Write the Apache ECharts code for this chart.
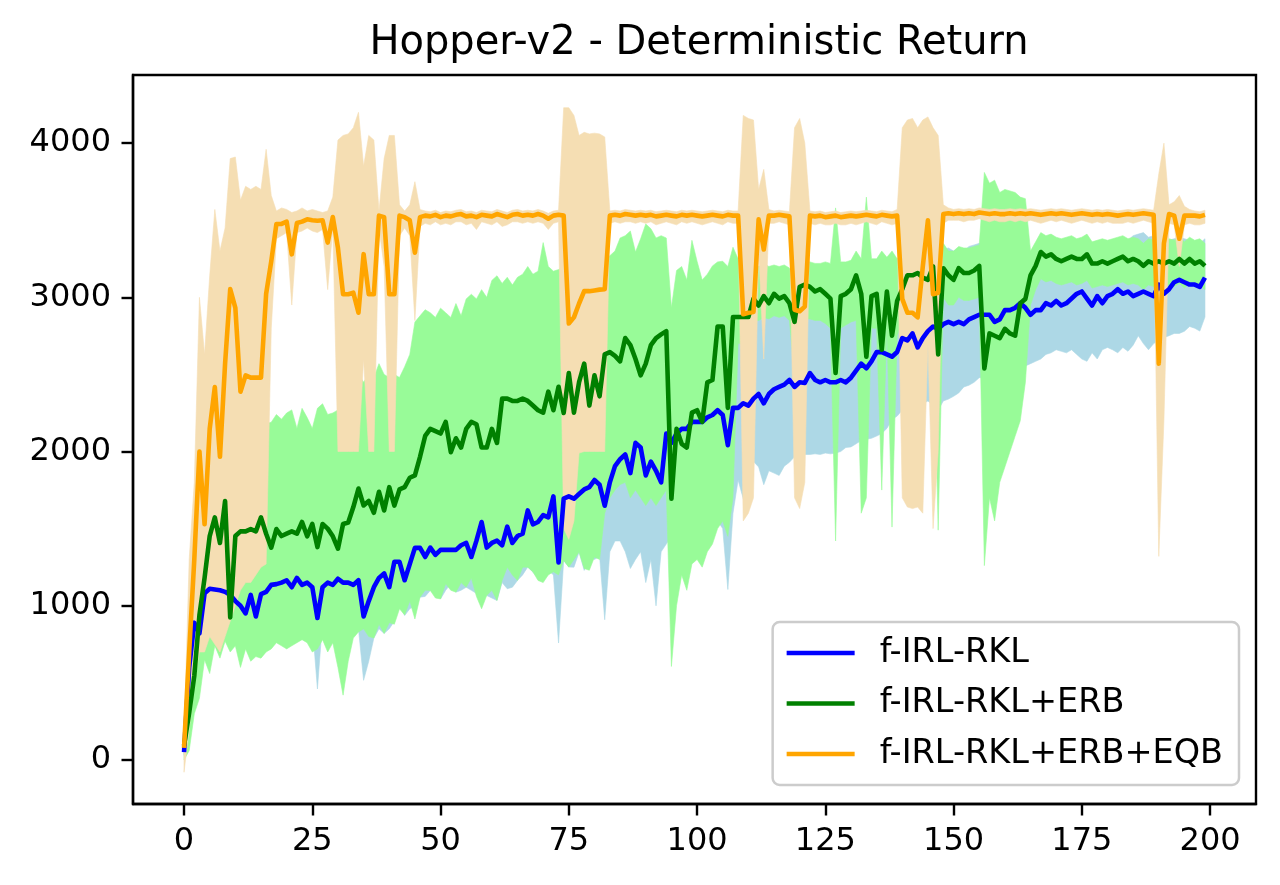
<!DOCTYPE html>
<html>
<head>
<meta charset="utf-8">
<script src="https://cdn.jsdelivr.net/npm/echarts@6/dist/echarts.min.js"></script>
<style>html,body{margin:0;padding:0;background:#fff}#c{width:1280px;height:885px}</style>
</head>
<body>
<div id="c"></div>
<script>
const titleText = 'Hopper-v2 - Deterministic Return';
const seriesNames = ['f-IRL-RKL', 'f-IRL-RKL+ERB', 'f-IRL-RKL+ERB+EQB'];
const xTicks = [0, 25, 50, 75, 100, 125, 150, 175, 200];
const yTicks = [0, 1000, 2000, 3000, 4000];

const blueMean = [
50,600,890,820,1080,1110,1105,1100,1090,1070,
1030,1000,950,1070,930,1075,1090,1135,1140,1150,
1165,1120,1180,1135,1150,1120,920,1120,1150,1135,
1175,1150,1150,1135,1165,930,1030,1120,1180,1210,
1120,1285,1285,1165,1270,1375,1375,1316,1377,1330,
1362,1362,1362,1362,1392,1407,1316,1422,1543,1377,
1407,1422,1392,1513,1407,1452,1467,1618,1528,1543,
1588,1573,1709,1280,1694,1709,1694,1724,1754,1769,
1815,1785,1649,1800,1905,1950,1981,1860,2056,2026,
1845,1935,1875,1800,2117,2056,2117,2147,2147,2192,
2192,2192,2222,2237,2268,2237,2041,2283,2283,2313,
2298,2343,2373,2313,2373,2404,2419,2434,2464,2419,
2449,2445,2509,2464,2449,2464,2449,2449,2464,2449,
2479,2524,2570,2540,2585,2645,2645,2630,2615,2645,
2736,2721,2766,2675,2736,2781,2811,2796,2826,2841,
2826,2841,2826,2857,2872,2887,2887,2887,2841,2857,
2917,2917,2932,2962,2932,2887,2917,2917,2962,2947,
2977,2947,2962,2992,3023,3038,2992,2947,3008,2962,
3008,3023,3053,3023,3038,3008,3023,3038,3023,3008,
3083,3023,3053,3098,3113,3098,3083,3083,3068,3128];

const blueLo = [
30,400,700,650,850,900,900,900,900,880,
850,820,800,850,780,850,880,900,900,900,
920,900,920,900,920,880,460,900,920,900,
920,900,900,900,850,516,640,790,850,820,
850,900,1011,936,980,1000,1055,1060,1099,1080,
1044,1100,1142,1088,1100,1120,1100,1080,1060,1066,
1050,1034,1150,1110,1120,1164,1200,1251,1218,1180,
1200,1230,1200,758,1294,1251,1250,1348,1229,1316,
1300,1320,909,1350,1420,1420,1350,1241,1300,1350,
1150,1300,999,1350,1400,1450,1400,1422,1300,1350,
1400,1420,1450,1500,1550,1500,1105,1600,1815,1694,
1750,1935,1900,1785,1875,1860,1845,1905,1930,1966,
1975,1981,1981,1985,1981,1990,1985,1990,2000,2026,
2030,2050,2071,2080,2086,2100,2117,2150,2207,2230,
2268,2280,2290,2300,2310,2328,2300,2268,2328,2340,
2358,2380,2419,2430,2449,2479,2480,2490,2500,2510,
2520,2530,2540,2550,2555,2570,2585,2600,2630,2640,
2660,2650,2640,2660,2630,2600,2585,2640,2600,2660,
2675,2660,2640,2675,2650,2690,2751,2700,2660,2700,
2721,2740,2751,2766,2766,2780,2811,2800,2781,2872];

const blueHi = [
200,900,1150,1100,1300,1320,1310,1300,1290,1280,
1250,1220,1200,1280,1200,1280,1300,1340,1350,1360,
1370,1340,1380,1350,1360,1340,1300,1340,1360,1350,
1380,1360,1360,1350,1380,1300,1330,1420,1480,1510,
1450,1580,1590,1480,1570,1680,1690,1620,1680,1640,
1660,1670,1660,1670,1700,1710,1640,1720,1850,1690,
1710,1720,1700,1820,1710,1760,1770,1920,1830,1850,
1890,1880,2010,1700,2000,2010,2000,2030,2060,2070,
2120,2090,2000,2100,2210,2250,2280,2170,2360,2330,
2150,2240,2180,2120,2420,2360,2420,2450,2450,2490,
2490,2490,2520,2540,2570,2540,2400,2600,2830,2860,
2850,2890,2920,2870,2920,2950,2970,2980,3010,2970,
3000,2990,3050,3010,3000,3010,3000,3000,3010,3000,
3030,3070,3110,3090,3130,3180,3180,3170,3160,3190,
3250,3240,3280,3200,3250,3290,3310,3290,3310,3320,
3300,3320,3300,3330,3340,3350,3350,3340,3300,3310,
3300,3290,3300,3320,3290,3250,3270,3280,3300,3290,
3310,3280,3290,3310,3340,3350,3310,3270,3320,3290,
3330,3350,3380,3350,3370,3400,3410,3420,3390,3400,
3420,3350,3370,3380,3390,3380,3370,3360,3350,3380];

const greenMean = [
93,305,546,939,1180,1452,1573,1407,1679,924,
1452,1482,1482,1497,1482,1573,1467,1377,1497,1452,
1467,1482,1467,1543,1450,1530,1380,1530,1500,1450,
1370,1530,1540,1640,1760,1650,1679,1603,1739,1618,
1769,1649,1754,1769,1830,1845,1966,2101,2147,2132,
2117,2192,1996,2086,2026,2147,2192,2177,2026,2026,
2147,2056,2343,2343,2328,2328,2343,2328,2298,2268,
2252,2388,2268,2420,2250,2509,2252,2450,2570,2298,
2494,2358,2630,2645,2620,2585,2736,2690,2600,2494,
2570,2690,2736,2760,2781,1694,2147,2050,2026,2252,
2268,2192,2449,2464,2811,2811,2283,2872,2872,2872,
2872,2992,2947,3008,2962,3023,2992,3008,2962,2841,
3068,3083,3068,3038,3053,3023,2992,2509,3008,3023,
3053,3143,3023,2615,3008,3023,2660,3038,2751,2977,
3053,3143,3143,3158,3128,3113,3200,2630,3189,3143,
3113,3189,3158,3158,3174,3204,2539,2766,2751,2736,
2796,2766,2751,2962,2990,3143,3204,3294,3264,3279,
3249,3234,3249,3264,3249,3249,3279,3219,3219,3234,
3219,3234,3249,3264,3234,3249,3234,3204,3234,3219,
3234,3219,3234,3219,3249,3219,3249,3219,3234,3204];

const greenLo = [
0,60,300,400,650,560,740,660,770,700,
740,600,720,640,670,660,700,720,760,740,
720,740,760,780,760,700,720,780,700,760,
600,420,640,790,830,850,800,790,880,820,
890,880,980,940,1030,914,1055,1100,1099,1050,
1044,1142,1100,1088,1150,1120,1180,1060,980,1066,
1100,1034,1164,1250,1200,1164,1250,1250,1220,1164,
1150,1200,1220,1200,1294,1250,1300,1348,1241,1230,
1316,1300,1600,1700,1750,1786,1800,1700,1750,1700,
1650,1700,1650,1700,1750,606,1000,1200,1100,1271,
1300,1250,1350,1400,1500,1550,1450,1700,2700,2700,
2720,2850,2850,2870,2860,2880,2870,2880,2850,2500,
2850,2860,2860,2850,2850,2830,2800,1420,2800,2820,
2840,2850,1600,1700,2800,2800,1750,2800,1510,2750,
2850,2950,2950,2950,2950,2900,2950,1490,3000,2950,
2950,3000,2980,2980,2990,3000,1260,1700,1550,1800,
1900,2000,2100,2200,2450,2950,3050,3120,3100,3110,
3090,3080,3090,3100,3080,3090,3110,3060,3070,3080,
3070,3080,3090,3100,3080,3090,3080,3050,3080,3070,
3080,3060,3080,3070,3090,3060,3090,3070,3080,3050];

const greenHi = [
180,600,900,1400,1600,1900,2000,2000,2100,1900,
2100,2150,2150,2150,2200,2200,2180,2190,2240,2210,
2250,2270,2150,2280,2220,2150,2280,2310,2240,2250,
2270,2300,2350,2400,2500,2450,2500,2480,2570,2500,
2480,2500,2480,2550,2630,2840,2880,2920,2900,2870,
2930,2900,2870,2960,2880,2990,3020,2990,3050,3000,
3110,3140,3090,3130,3080,3130,3150,3200,3150,3170,
3355,3200,3170,3180,3200,3220,3200,3250,3230,3230,
3240,3250,3260,3270,3300,3385,3400,3430,3294,3380,
3476,3445,3385,3400,3385,2932,3174,3200,3113,3370,
3234,3113,3150,3204,3230,3234,3200,3325,3250,3230,
3200,3230,3200,3220,3200,3210,3200,3210,3190,3150,
3250,3240,3230,3220,3220,3230,3220,3580,3230,3230,
3240,3300,3250,3650,3250,3250,3300,3260,3300,3250,
3280,3300,3320,3330,3300,3300,3350,3200,3350,3300,
3300,3330,3320,3320,3330,3340,3810,3740,3760,3680,
3700,3690,3680,3650,3640,3300,3360,3420,3400,3410,
3390,3380,3390,3400,3380,3390,3410,3360,3370,3380,
3370,3380,3390,3400,3380,3390,3380,3350,3380,3370,
3380,3360,3380,3370,3390,3360,3390,3370,3380,3350];

const orangeMean = [
78,700,1300,2000,1528,2147,2418,1966,2570,3053,
2932,2388,2494,2479,2479,2479,3023,3234,3476,3476,
3491,3279,3482,3491,3506,3500,3497,3500,3355,3521,
3320,3020,3020,3030,2900,3280,3020,3020,3530,3520,
3020,3020,3530,3520,3500,3290,3520,3530,3525,3535,
3520,3530,3525,3535,3540,3525,3530,3520,3535,3530,
3525,3540,3530,3520,3535,3540,3530,3535,3530,3540,
3530,3510,3530,3535,3530,2830,2870,2960,3040,3040,
3045,3050,3053,3530,3535,3530,3540,3535,3530,3535,
3530,3535,3525,3530,3535,3530,3525,3535,3530,3535,
3530,3525,3530,3535,3530,3525,3535,3530,3530,2890,
2900,2905,3506,3310,3530,3530,3535,3530,3525,2920,
2910,2940,3530,3525,3530,3520,3525,3530,3520,3525,
3530,3525,3530,3535,3530,3525,3535,3530,3525,3530,
2990,2900,2900,2870,3200,3500,3020,3030,3540,3545,
3540,3545,3540,3545,3540,3550,3545,3540,3545,3540,
3540,3545,3540,3545,3540,3545,3540,3535,3540,3545,
3540,3545,3540,3535,3540,3545,3540,3535,3540,3535,
3540,3535,3530,3535,3540,3535,3540,3545,3540,3535,
2570,3350,3540,3530,3380,3530,3530,3530,3525,3535];

const orangeLo = [
-80,200,500,700,700,800,750,700,800,900,
1000,1100,1150,1150,1200,1250,1270,2800,3380,3400,
3420,2950,3420,3430,3450,3430,3420,3440,3050,3450,
2000,2000,2000,2000,2000,2600,2000,2000,3450,3200,
2000,2000,3400,3450,3400,2850,3460,3480,3470,3490,
3470,3480,3470,3490,3490,3470,3480,3440,3490,3480,
3470,3490,3460,3470,3490,3490,3480,3490,3480,3490,
3480,3440,3480,3490,1500,1430,1550,1990,2000,2000,
2000,2000,2000,3480,3490,3480,3490,3490,3480,3490,
3480,3490,3470,3480,3490,3480,3470,3490,3480,3490,
3480,3470,3480,3490,3480,3470,3490,3480,3480,1550,
1600,1700,3300,2600,3480,3480,3490,3480,3470,1700,
1630,1800,3480,3470,3480,3470,3470,3480,3470,3470,
3480,3470,3480,3490,3480,3470,3490,3480,3470,3480,
1700,1640,1630,1640,1600,2700,1500,2000,3480,3500,
3500,3500,3490,3500,3500,3510,3500,3490,3500,3490,
3490,3500,3490,3500,3490,3500,3490,3480,3490,3500,
3490,3500,3490,3480,3490,3500,3490,3480,3490,3480,
3490,3480,3480,3480,3490,3480,3490,3500,3490,3480,
1320,2200,3480,3470,3200,3470,3480,3470,3470,3480];

const orangeHi = [
150,1300,1800,3000,2630,3140,3570,3300,3450,3900,
3910,3630,3720,3700,3720,3700,3960,3660,3560,3580,
3570,3550,3560,3580,3560,3570,3560,3550,3560,3650,
4020,4050,4060,4100,4200,3850,4050,4020,3560,3900,
4050,4050,3600,3560,3600,3750,3570,3560,3555,3565,
3550,3560,3555,3565,3570,3555,3560,3550,3565,3560,
3555,3570,3560,3550,3565,3570,3560,3565,3560,3570,
3560,3545,3560,3565,4230,4230,4180,4050,4070,4060,
4065,4060,4040,3560,3565,3560,3570,3565,3560,3565,
3560,3565,3555,3560,3565,3560,3555,3565,3560,3565,
3560,3555,3560,3565,3560,3555,3565,3560,3560,4180,
4160,4150,3700,3830,3570,3560,3565,3560,3555,4100,
4160,4000,3560,3555,3560,3550,3555,3560,3550,3555,
3560,3555,3560,3565,3560,3555,3565,3560,3555,3570,
4100,4150,4160,4100,4150,4170,4100,4050,3600,3580,
3570,3575,3570,3575,3570,3580,3575,3570,3575,3570,
3570,3575,3570,3575,3570,3575,3570,3565,3570,3575,
3570,3575,3570,3565,3570,3575,3570,3565,3570,3565,
3570,3565,3560,3565,3570,3565,3570,3575,3570,3565,
3800,4000,3600,3620,3660,3590,3570,3560,3555,3565];

const lineColors = ['#0000ff', '#008000', '#ffa500'];
const bandColors = ['#add8e6', '#98fb98', '#f5deb3'];
const FONT = 'DejaVu Sans';

function bandSeries(name, lo, hi, color) {
  return {
    type: 'custom', name: name, coordinateSystem: 'cartesian2d', silent: true,
    data: [[0, 0]], encode: { x: 0, y: 1 }, z: 1,
    renderItem: function (params, api) {
      const pts = [];
      for (let i = 0; i < hi.length; i++) pts.push(api.coord([i, hi[i]]));
      for (let i = lo.length - 1; i >= 0; i--) pts.push(api.coord([i, lo[i]]));
      return { type: 'polygon', shape: { points: pts }, style: { fill: color, stroke: color, lineWidth: 0.6 } };
    }
  };
}
function lineSeries(name, vals, color) {
  return {
    type: 'line', name: name, data: vals.map((v, i) => [i, v]), showSymbol: false, symbol: 'none',
    lineStyle: { color: color, width: 4.6, cap: 'butt', join: 'round' }, itemStyle: { color: color }, z: 3, animation: false
  };
}
const plainNum = v => String(Math.round(v));

const chart = echarts.init(document.getElementById('c'), null, { renderer: 'canvas' });
chart.setOption({
  animation: false,
  backgroundColor: '#ffffff',
  title: {
    text: titleText, left: 694, top: 19, textAlign: 'center',
    textStyle: { fontFamily: FONT, fontSize: 40, fontWeight: 'normal', color: '#000', lineHeight: 40 }
  },
  grid: { left: 133, top: 75, width: 1123, height: 729, show: true, borderColor: '#000', borderWidth: 2.4, backgroundColor: 'transparent' },
  xAxis: {
    type: 'value', min: -9.95, max: 208.95,
    axisLine: { show: true, onZero: false, lineStyle: { color: '#000', width: 2.4 } },
    axisTick: { show: true, inside: false, length: 11.5, lineStyle: { color: '#000', width: 2.4 }, customValues: xTicks },
    axisLabel: { customValues: xTicks, formatter: plainNum, margin: 22, fontFamily: FONT, fontSize: 32, color: '#000' },
    splitLine: { show: false }
  },
  yAxis: {
    type: 'value', min: -286, max: 4442,
    axisLine: { show: true, onZero: false, lineStyle: { color: '#000', width: 2.4 } },
    axisTick: { show: true, inside: false, length: 11.5, lineStyle: { color: '#000', width: 2.4 }, customValues: yTicks },
    axisLabel: { customValues: yTicks, formatter: plainNum, margin: 22, fontFamily: FONT, fontSize: 32, color: '#000' },
    splitLine: { show: false }
  },
  legend: {
    data: seriesNames, orient: 'vertical', right: 41, top: 622,
    padding: [14, 16, 14, 14], itemGap: 16.5, itemWidth: 68, itemHeight: 4.6, icon: 'rect',
    backgroundColor: 'rgba(255,255,255,0.8)', borderColor: '#cccccc', borderWidth: 2.5, borderRadius: 7,
    textStyle: { fontFamily: FONT, fontSize: 33.5, lineHeight: 33.5, color: '#000', padding: [0, 0, 0, 20] }
  },
  series: [
    bandSeries('band0', blueLo, blueHi, bandColors[0]),
    bandSeries('band1', greenLo, greenHi, bandColors[1]),
    bandSeries('band2', orangeLo, orangeHi, bandColors[2]),
    lineSeries(seriesNames[0], blueMean, lineColors[0]),
    lineSeries(seriesNames[1], greenMean, lineColors[1]),
    lineSeries(seriesNames[2], orangeMean, lineColors[2])
  ]
});
</script>
</body>
</html>
